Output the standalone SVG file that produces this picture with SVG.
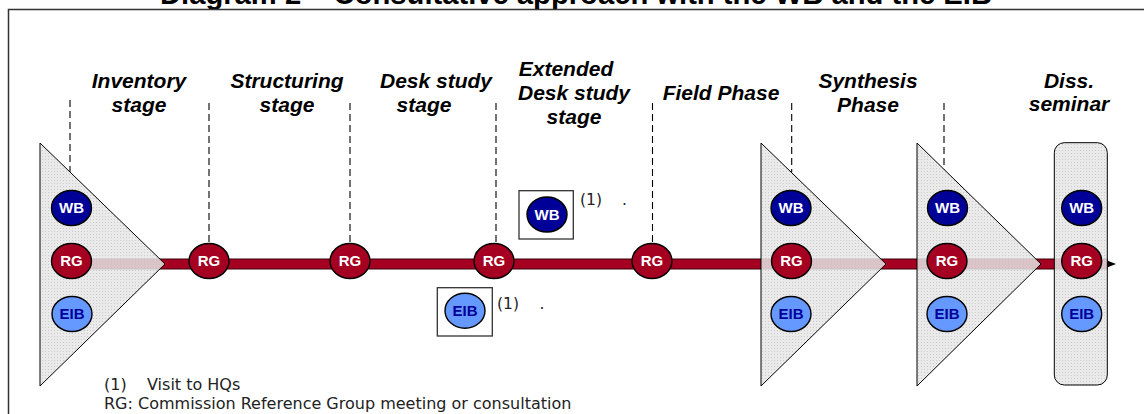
<svg xmlns="http://www.w3.org/2000/svg" width="1144" height="414" viewBox="0 0 1144 414">
<style>
.stage{font-family:"Liberation Sans",Arial,sans-serif;font-weight:bold;font-style:italic;font-size:21px;fill:#000;text-anchor:middle}
.title{font-family:"Liberation Sans",Arial,sans-serif;font-weight:bold;font-size:29.2px;fill:#000}
.lg{font-family:"DejaVu Sans",Verdana,sans-serif;font-size:15.5px;fill:#222}
.leg{font-family:"DejaVu Sans",Verdana,sans-serif;font-size:16px;fill:#222}
.ew{font-family:"Liberation Sans",Arial,sans-serif;font-weight:bold;font-size:15px;fill:#fff;text-anchor:middle}
.ee{font-family:"Liberation Sans",Arial,sans-serif;font-weight:bold;font-size:15px;fill:#000099;text-anchor:middle}
.wb{fill:#000099;stroke:#000;stroke-width:1.4}
.rg{fill:#A50021;stroke:#000;stroke-width:1.4}
.eib{fill:#6699FF;stroke:#000;stroke-width:1.4}
.dash{stroke:#000;stroke-width:1.1;stroke-dasharray:7,4;fill:none}
.shape{fill:url(#dots);stroke:#000;stroke-width:1}
.box{fill:#fff;stroke:#333;stroke-width:1.3}
</style>
<defs>
<pattern id="dots" width="3" height="3" patternUnits="userSpaceOnUse">
<rect width="3" height="3" fill="#e6e6e6" fill-opacity="0.85"/>
<rect width="1" height="1" fill="#c4c4c4" fill-opacity="0.85"/>
</pattern>
<g id="WB"><ellipse class="wb" cx="0" cy="0" rx="20" ry="17.5"/><text class="ew" x="0" y="5.3">WB</text></g>
<g id="RG"><ellipse class="rg" cx="0" cy="0" rx="20" ry="17.5"/><text class="ew" x="0" y="5.3">RG</text></g>
<g id="EIB"><ellipse class="eib" cx="0" cy="0" rx="20" ry="17.5"/><text class="ee" x="0" y="5.3">EIB</text></g>
</defs>
<rect width="1144" height="414" fill="#fff"/>
<text class="title" x="160" y="4">Diagram 2 – Consultative approach with the WB and the EIB</text>
<rect x="8.5" y="9.5" width="1200" height="500" fill="none" stroke="#333" stroke-width="1.5"/>

<g id="stage-labels">
<text class="stage" x="139" y="88">Inventory</text>
<text class="stage" x="139" y="112">stage</text>
<text class="stage" x="287" y="88">Structuring</text>
<text class="stage" x="287" y="112">stage</text>
<text class="stage" x="436" y="88">Desk study</text>
<text class="stage" x="424" y="112">stage</text>
<text class="stage" x="566" y="76">Extended</text>
<text class="stage" x="574" y="100">Desk study</text>
<text class="stage" x="574" y="124">stage</text>
<text class="stage" x="721" y="100">Field Phase</text>
<text class="stage" x="868" y="88">Synthesis</text>
<text class="stage" x="868" y="112">Phase</text>
<text class="stage" x="1069" y="88">Diss.</text>
<text class="stage" x="1069" y="111">seminar</text>
</g>

<g id="guides">
<line class="dash" x1="70" y1="100" x2="70" y2="172"/>
<line class="dash" x1="209" y1="103" x2="209" y2="243"/>
<line class="dash" x1="350" y1="103" x2="350" y2="243"/>
<line class="dash" x1="496" y1="103" x2="496" y2="243"/>
<line class="dash" x1="652.5" y1="103" x2="652.5" y2="243"/>
<line class="dash" x1="791.7" y1="103" x2="791.7" y2="172"/>
<line class="dash" x1="944" y1="103" x2="944" y2="170" stroke="#555"/>
</g>

<g id="connectors">
<rect x="71" y="259" width="1036" height="10" fill="#A50021" stroke="#3a0008" stroke-width="1"/>
<polygon points="1107,260.5 1116,264 1107,267.5" fill="#000"/>
</g>

<g id="inventory-meeting">
<polygon class="shape" points="40,143 165,264 40,386"/>
<use href="#WB" x="71.5" y="208"/>
<use href="#RG" x="71.5" y="261"/>
<use href="#EIB" x="72" y="314"/>
</g>

<g id="rg-structuring"><use href="#RG" x="209" y="261"/></g>
<g id="rg-structuring2"><use href="#RG" x="350" y="261"/></g>
<g id="rg-desk"><use href="#RG" x="494" y="261"/></g>
<g id="rg-extended"><use href="#RG" x="652" y="261"/></g>

<g id="wb-visit">
<rect class="box" x="519" y="190.7" width="54.3" height="48.3"/>
<use href="#WB" x="547" y="214.5"/>
<text class="lg" x="580" y="205">(1)</text>
<text class="lg" x="622" y="205">.</text>
</g>

<g id="eib-visit">
<rect class="box" x="437.3" y="287.7" width="55" height="48.3"/>
<use href="#EIB" x="465" y="310.7"/>
<text class="lg" x="497" y="309">(1)</text>
<text class="lg" x="539.5" y="309">.</text>
</g>

<g id="field-meeting">
<polygon class="shape" points="761,143 886,264 761,386"/>
<use href="#WB" x="791" y="208"/>
<use href="#RG" x="791.5" y="261"/>
<use href="#EIB" x="791" y="314"/>
</g>

<g id="synthesis-meeting">
<polygon class="shape" points="917,143 1041,264 917,386"/>
<use href="#WB" x="947.5" y="208"/>
<use href="#RG" x="947" y="261"/>
<use href="#EIB" x="947" y="314"/>
</g>

<g id="seminar">
<rect class="shape" x="1054.3" y="142.7" width="53" height="242.3" rx="10" stroke="#444" stroke-width="1.5"/>
<use href="#WB" x="1081.7" y="208"/>
<use href="#RG" x="1081.7" y="261"/>
<use href="#EIB" x="1081.7" y="314"/>
</g>

<g id="legend">
<text class="leg" x="104" y="389.5">(1)</text>
<text class="leg" x="147" y="389.5">Visit to HQs</text>
<text class="leg" x="104" y="408.5">RG: Commission Reference Group meeting or consultation</text>
</g>
</svg>
